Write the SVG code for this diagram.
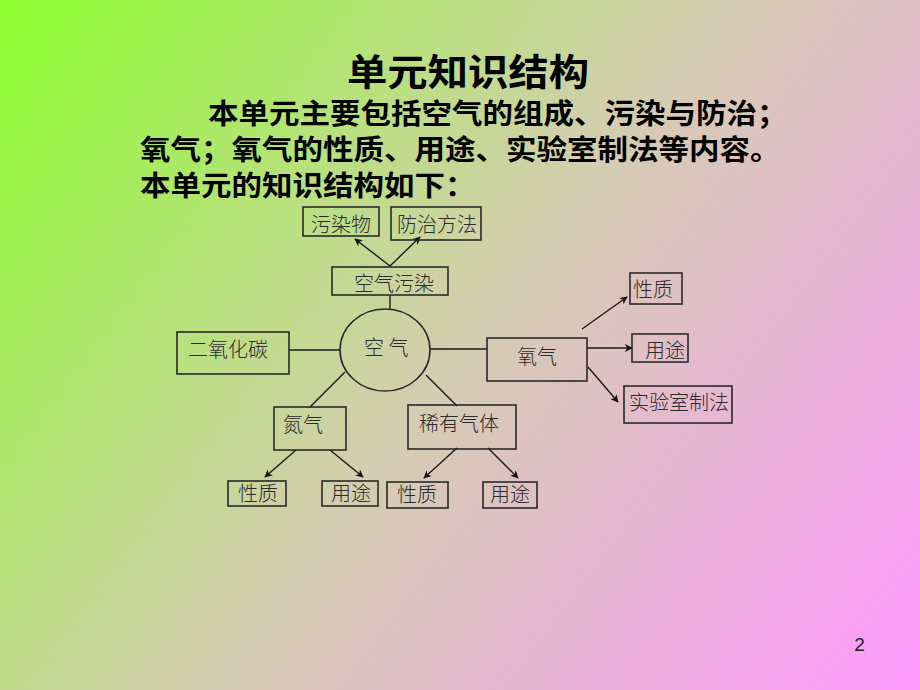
<svg xmlns="http://www.w3.org/2000/svg" width="920" height="690" viewBox="0 0 920 690">
<defs>
<linearGradient id="bg" x1="0" y1="0" x2="920" y2="690" gradientUnits="userSpaceOnUse">
<stop offset="0" stop-color="#8CFF2E"/>
<stop offset="0.5" stop-color="#D4CDB0"/>
<stop offset="1" stop-color="#FF99FF"/>
</linearGradient>
<marker id="ah" viewBox="0 0 10 10" refX="9" refY="5" markerWidth="8" markerHeight="8" markerUnits="userSpaceOnUse" orient="auto">
<path d="M0,0 L10,5 L0,10 L3,5 z" fill="#111"/>
</marker>
<style>
.hd{font-family:"Noto Sans CJK SC","Noto Sans CJK TC",sans-serif;font-weight:bold;fill:#000}
.box{fill:none;stroke:#2a2a2a;stroke-width:1.6}
.lbl{font-family:"Noto Sans CJK SC","Noto Sans CJK TC",sans-serif;font-size:20px;fill:#2a2a2a;font-weight:300}
.ln{stroke:#1a1a1a;stroke-width:1.4;fill:none}
.ar{stroke:#1a1a1a;stroke-width:1.4;fill:none;marker-end:url(#ah)}
</style>
</defs>
<rect x="0" y="0" width="920" height="690" fill="url(#bg)"/>

<g id="heading">
<text class="hd" x="347" y="86" font-size="37" textLength="242" lengthAdjust="spacingAndGlyphs">单元知识结构</text>
<text class="hd" x="208" y="123.5" font-size="28" textLength="579.5" lengthAdjust="spacingAndGlyphs">本单元主要包括空气的组成、污染与防治；</text>
<text class="hd" x="140" y="159.5" font-size="28" textLength="640.5" lengthAdjust="spacingAndGlyphs">氧气；氧气的性质、用途、实验室制法等内容。</text>
<text class="hd" x="140" y="195.5" font-size="28" textLength="335.5" lengthAdjust="spacingAndGlyphs">本单元的知识结构如下：</text>
</g>

<g id="connectors">
<line class="ar" x1="390" y1="266" x2="355" y2="239"/>
<line class="ar" x1="390" y1="266" x2="420" y2="237"/>
<line class="ln" x1="390" y1="295" x2="390" y2="309"/>
<line class="ln" x1="289" y1="350" x2="340" y2="350"/>
<line class="ln" x1="430" y1="349" x2="487" y2="349"/>
<line class="ln" x1="345" y1="372" x2="310" y2="407"/>
<line class="ln" x1="426" y1="375" x2="457" y2="406"/>
<line class="ar" x1="582" y1="329" x2="627" y2="297"/>
<line class="ar" x1="587" y1="348" x2="632" y2="348"/>
<line class="ar" x1="588" y1="367" x2="618" y2="402"/>
<line class="ar" x1="296" y1="450" x2="265" y2="477"/>
<line class="ar" x1="330" y1="450" x2="363" y2="477"/>
<line class="ar" x1="457" y1="448" x2="424" y2="478"/>
<line class="ar" x1="488" y1="448" x2="518" y2="478"/>
</g>

<g id="pollutant">
<rect class="box" x="303" y="207" width="76" height="29"/>
<text class="lbl" x="311" y="232">污染物</text>
</g>
<g id="prevention">
<rect class="box" x="391" y="207" width="90" height="33"/>
<text class="lbl" x="397" y="232">防治方法</text>
</g>
<g id="air-pollution">
<rect class="box" x="332" y="267" width="116" height="28"/>
<text class="lbl" x="354" y="291">空气污染</text>
</g>
<g id="co2">
<rect class="box" x="177" y="332" width="112" height="42"/>
<text class="lbl" x="188" y="357">二氧化碳</text>
</g>
<g id="air">
<ellipse class="box" cx="385" cy="350" rx="45" ry="41"/>
<text class="lbl" x="364" y="355">空 气</text>
</g>
<g id="oxygen">
<rect class="box" x="487" y="338" width="100" height="43"/>
<text class="lbl" x="517" y="364">氧气</text>
</g>
<g id="o2-property">
<rect class="box" x="630" y="273" width="52" height="31"/>
<text class="lbl" x="633" y="297">性质</text>
</g>
<g id="o2-use">
<rect class="box" x="632" y="334" width="56" height="28"/>
<text class="lbl" x="645" y="358">用途</text>
</g>
<g id="o2-lab">
<rect class="box" x="624" y="386" width="108" height="37"/>
<text class="lbl" x="629" y="410">实验室制法</text>
</g>
<g id="nitrogen">
<rect class="box" x="274" y="407" width="72" height="43"/>
<text class="lbl" x="283" y="432">氮气</text>
</g>
<g id="noble-gas">
<rect class="box" x="408" y="405" width="108" height="44"/>
<text class="lbl" x="419" y="431">稀有气体</text>
</g>
<g id="n2-property">
<rect class="box" x="228" y="481" width="58" height="25"/>
<text class="lbl" x="238" y="501">性质</text>
</g>
<g id="n2-use">
<rect class="box" x="322" y="481" width="56" height="25"/>
<text class="lbl" x="331" y="501">用途</text>
</g>
<g id="noble-property">
<rect class="box" x="387" y="482" width="61" height="26"/>
<text class="lbl" x="397" y="502">性质</text>
</g>
<g id="noble-use">
<rect class="box" x="483" y="482" width="54" height="26"/>
<text class="lbl" x="490" y="502">用途</text>
</g>

<text x="859.5" y="651" font-family="Liberation Sans, sans-serif" font-size="19" fill="#222" text-anchor="middle">2</text>
</svg>
